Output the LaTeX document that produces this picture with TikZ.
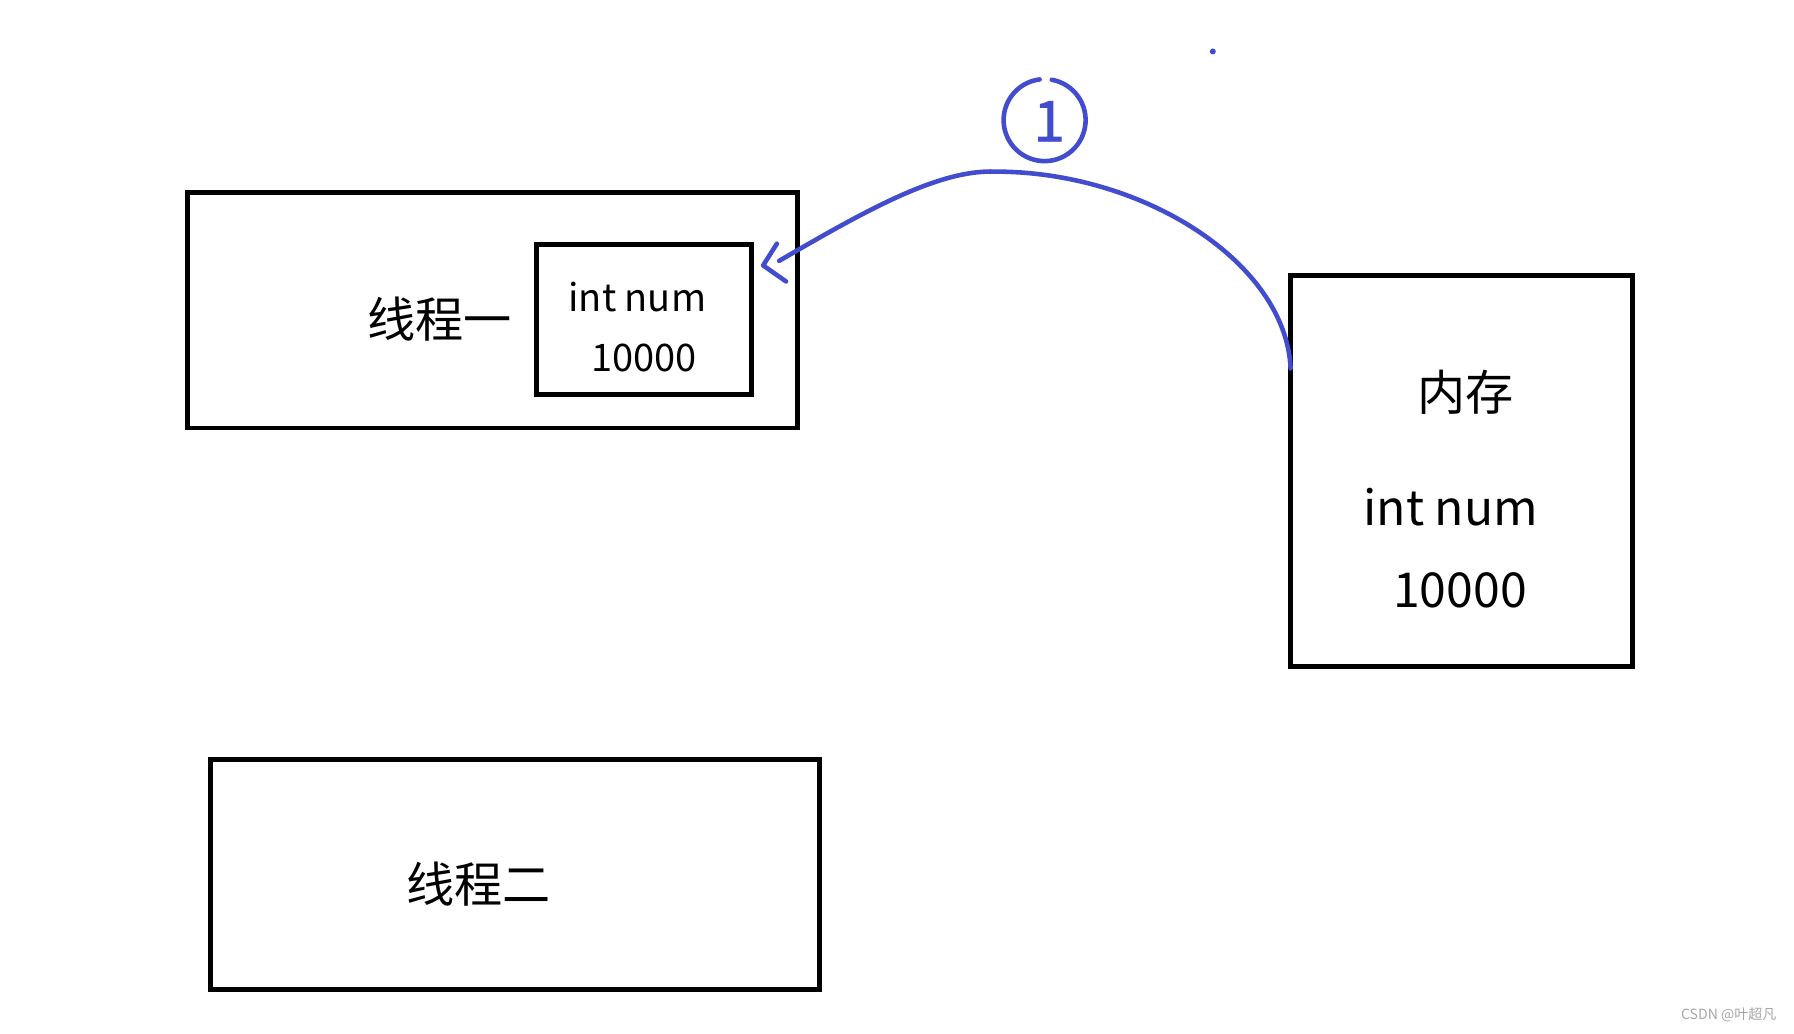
\documentclass[tikz,border=0pt]{standalone}
\usepackage{fontspec}
\setmainfont{Noto Sans CJK SC}
\usetikzlibrary{positioning, calc, arrows.meta}
\definecolor{penBlue}{RGB}{66,76,206}
\def\nameFont{\fontsize{13.7}{16}\selectfont}
\def\varFont{\fontsize{10.8}{13}\selectfont}
\def\oneFont{\fontsize{16}{18}\selectfont\addfontfeature{FakeBold=1.5}}
\tikzset{
  box/.style = {draw, rectangle, line width=1.4pt, inner sep=0},
  pen/.style = {draw=penBlue, line width=1.3pt, line cap=round, line join=round},
}

\begin{document}
\begin{tikzpicture}[x=0.01144cm, y=-0.01144cm]
  \useasboundingbox (0,0) rectangle (1568,903);

  % Thread one
  \node[box, minimum width=6.10cm, minimum height=2.36cm] (T1) at (430.5,271) {};
  \node[box, minimum width=2.15cm, minimum height=1.50cm] (T1Var) at (563,279.5) {};
  \node[font=\nameFont] (T1Name) at (384,279) {线程一};
  \node[font=\varFont] (T1Type) at (557,260) {int num};
  \node[font=\varFont] (T1Val) at (563,313) {10000};

  % Memory
  \node[box, minimum width=3.42cm, minimum height=3.91cm] (Mem) at (1277.5,412) {};
  \node[font=\nameFont] (MemName) at (1281,343) {内存};
  \node[font=\nameFont] (MemType) at (1268,443) {int num};
  \node[font=\nameFont] (MemVal) at (1276,516) {10000};

  % Thread two
  \node[box, minimum width=6.09cm, minimum height=2.30cm] (T2) at (450,764.5) {};
  \node[font=\nameFont] (T2Name) at (418,773) {线程二};

  % Step 1: read from memory
  \coordinate (memArc) at (1128,322);
  \coordinate (tip) at (681,228);
  \draw[pen] (memArc) .. controls (1124,230) and (1000,150) .. (870,150)
    .. controls (820,148) and (755,185) .. (tip);
  \draw[pen] ($(tip)+(-2,-15)$) -- ($(tip)+(-14,4)$) -- ($(tip)+(6,18)$);

  \node[text=penBlue, font=\oneFont, inner sep=0] (one) at (917,106) {1};
  \draw[pen] ([shift={(-4,-1)}]one.center) ++(80:0.41cm)
    arc[start angle=80, end angle=-263, radius=0.41cm];
  \fill[penBlue] (1060,45) circle[radius=0.03cm];

  \node[text=gray!70, font=\fontsize{4}{5}\selectfont] (mark) at (1511,887) {CSDN @叶超凡};
\end{tikzpicture}
\end{document}
